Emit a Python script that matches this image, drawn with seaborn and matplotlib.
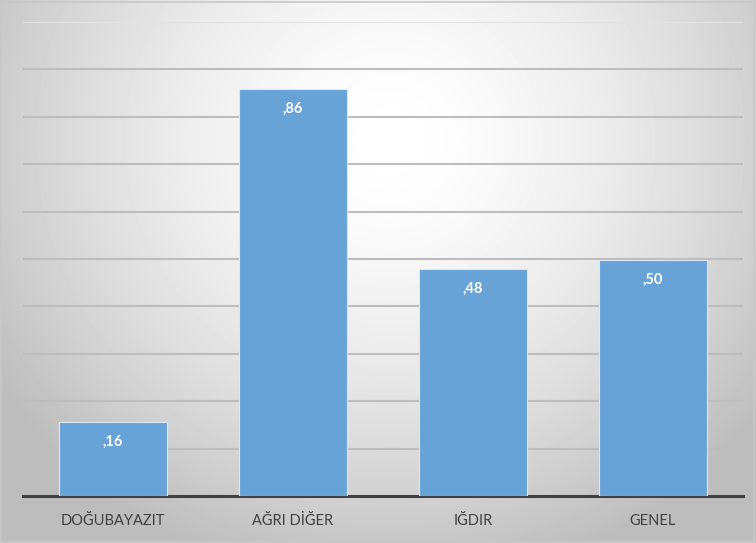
import numpy as np
import pandas as pd
import matplotlib
matplotlib.use("Agg")
import matplotlib.pyplot as plt
import seaborn as sns

# values
categories = ["DOĞUBAYAZIT", "AĞRI DİĞER", "IĞDIR", "GENEL"]
values = [0.157, 0.859, 0.479, 0.498]

df = pd.DataFrame({"grup": categories, "deger": values})

sns.set_theme(style="white")
plt.rcParams["font.family"] = ["Lato", "DejaVu Sans"]

fig = plt.figure(figsize=(7.56, 5.43), dpi=100)

# radial grey background
bg = fig.add_axes([0, 0, 1, 1], zorder=0)
yy, xx = np.mgrid[0:543, 0:756]
r = np.sqrt(((xx - 390) / 540.0) ** 2 + ((yy - 140) / 520.0) ** 2)
shade = np.clip(1.0 - 0.33 * r ** 1.6, 0.74, 1.0)
bg.imshow(shade, cmap="gray", vmin=0, vmax=1, aspect="auto",
          extent=[0, 1, 0, 1], origin="upper")
bg.set_xlim(0, 1); bg.set_ylim(0, 1)
bg.axis("off")
bg.add_patch(plt.Rectangle((0.001, 0.001), 0.997, 0.996, fill=False,
                           edgecolor="#c8c8c8", lw=1.2, transform=bg.transAxes))

ax = fig.add_axes([23 / 756, 47 / 543, 720 / 756, 474 / 543], zorder=1)
ax.patch.set_alpha(0)

sns.barplot(data=df, x="grup", y="deger", color="#68a3d8", saturation=1,
            width=0.6, edgecolor="#dbe8f4", linewidth=0.8, ax=ax, zorder=3)

ax.set_ylim(0, 1.0)
ax.set_yticks(np.arange(0.1, 1.01, 0.1))
ax.yaxis.grid(True, color="#bdbdbd", lw=1.5)
ax.get_ygridlines()[-1].set_color("#e2e2e2")
ax.set_axisbelow(True)
ax.tick_params(axis="y", left=False, labelleft=False)
ax.tick_params(axis="x", bottom=False, labelsize=10.5, colors="#404040", pad=7)
for s in ["top", "right", "left"]:
    ax.spines[s].set_visible(False)
ax.spines["bottom"].set_color("#404040")
ax.spines["bottom"].set_linewidth(2.2)
ax.set_xlabel("")
ax.set_ylabel("")

for i, v in enumerate(values):
    lab = f"{v:.2f}".lstrip("0").replace(".", ",")
    ax.annotate(lab, (i, v), xytext=(0, -14.5), textcoords="offset points",
                ha="center", va="center", color="white", fontsize=10.5,
                fontweight="bold", zorder=5)

fig.savefig("out.png", dpi=100)
